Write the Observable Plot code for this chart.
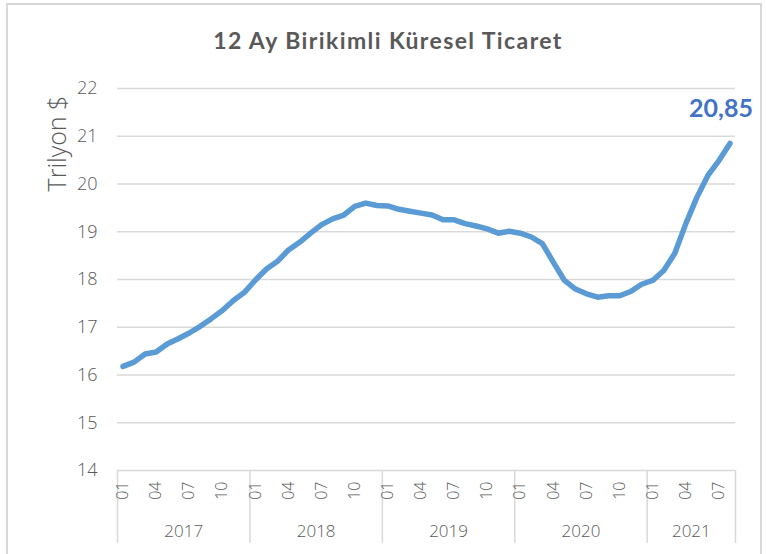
<!DOCTYPE html>
<html>
<head>
<meta charset="utf-8">
<script src="https://cdn.jsdelivr.net/npm/d3@7"></script>
<script src="https://cdn.jsdelivr.net/npm/@observablehq/plot@0.6"></script>
<style>
  html, body { margin: 0; padding: 0; background: #fff; width: 766px; height: 554px; overflow: hidden; }
  #frame { position: absolute; left: 6px; top: 3px; width: 756px; height: 600px; border: 2px solid #d9d9d9; box-sizing: border-box; }
  #title { position: absolute; left: 0; top: 26px; width: 776px; text-align: center; font-family: Lato, "Open Sans", sans-serif; font-weight: 700; font-size: 23px; letter-spacing: 1.4px; color: #595959; }
  #chart { position: absolute; left: 0; top: 0; }
</style>
</head>
<body>
<div id="frame"></div>
<div id="title">12 Ay Birikimli Küresel Ticaret</div>
<div id="chart"></div>
<script>
const years = [2017, 2018, 2019, 2020, 2021];
const monthLabels = ["01","02","03","04","05","06","07","08","09","10","11","12"];
const shownMonths = ["01", "04", "07", "10"];
const values2017 = [16.18, 16.27, 16.44, 16.48, 16.65, 16.76, 16.88, 17.02, 17.18, 17.35, 17.56, 17.73];
const values2018 = [17.99, 18.22, 18.38, 18.62, 18.78, 18.97, 19.15, 19.27, 19.35, 19.53, 19.60, 19.55];
const values2019 = [19.54, 19.47, 19.43, 19.39, 19.35, 19.25, 19.25, 19.17, 19.12, 19.06, 18.97, 19.01];
const values2020 = [18.97, 18.89, 18.75, 18.36, 17.98, 17.80, 17.70, 17.63, 17.66, 17.66, 17.75, 17.90];
const values2021 = [17.98, 18.19, 18.55, 19.17, 19.72, 20.18, 20.49, 20.85];
const yTicks = [14, 15, 16, 17, 18, 19, 20, 21, 22];
const yLabel = "Trilyon $";

const seriesByYear = [values2017, values2018, values2019, values2020, values2021];
const data = [];
seriesByYear.forEach((vals, yi) => {
  vals.forEach((v, mi) => data.push({i: data.length, year: years[yi], month: monthLabels[mi], value: v}));
});
const n = data.length;
const monthTicks = data.filter(d => shownMonths.includes(d.month));
const yearGroups = years.map(y => {
  const ds = data.filter(d => d.year === y);
  return {year: y, start: ds[0].i - 0.5, end: ds[ds.length - 1].i + 0.5, mid: (ds[0].i + ds[ds.length - 1].i) / 2};
});
const separators = [yearGroups[0].start, ...yearGroups.map(g => g.end)];
const last = data[n - 1];

const lightFont = "'Open Sans', Lato, sans-serif";
const textColor = "#595959";

const chart = Plot.plot({
  width: 766,
  height: 554,
  marginTop: 88,
  marginBottom: 84,
  marginLeft: 117,
  marginRight: 31,
  style: {background: "transparent", fontFamily: lightFont, color: textColor, overflow: "visible"},
  x: {type: "linear", domain: [-0.5, n - 0.5], axis: null},
  y: {domain: [14, 22], axis: null},
  marks: [
    Plot.ruleY(yTicks, {stroke: "#d9d9d9", strokeWidth: 1.5}),
    Plot.ruleX(separators, {x: d => d, stroke: "#d9d9d9", strokeWidth: 1.5, insetTop: 382, insetBottom: -73}),
    Plot.axisY(yTicks, {label: null, tickSize: 0, tickPadding: 20, fontSize: 18, fontWeight: 300, fill: textColor, tickFormat: d => String(d)}),
    Plot.text([yLabel], {frameAnchor: "left", text: d => d, rotate: -90, textAnchor: "middle", dx: -60, dy: -136, fontSize: 25, fontWeight: 300, fill: textColor}),
    Plot.text(monthTicks, {x: "i", y: 14, text: "month", rotate: -90, textAnchor: "end", lineAnchor: "middle", dy: 11, fontSize: 16, fontWeight: 300, fill: textColor}),
    Plot.text(yearGroups, {x: "mid", y: 14, text: d => String(d.year), dy: 61, lineAnchor: "middle", fontSize: 17, fontWeight: 300, fill: textColor}),
    Plot.line(data, {x: "i", y: "value", stroke: "#5B9BD5", strokeWidth: 5.5, strokeLinejoin: "round", strokeLinecap: "round"}),
    Plot.text([last], {x: "i", y: "value", text: d => d.value.toFixed(2).replace(".", ","), dx: -9, dy: -34, fontSize: 25, fontWeight: 700, fontFamily: "Lato, 'Open Sans', sans-serif", fill: "#4472C4"})
  ]
});
document.getElementById("chart").appendChild(chart);
</script>
</body>
</html>
